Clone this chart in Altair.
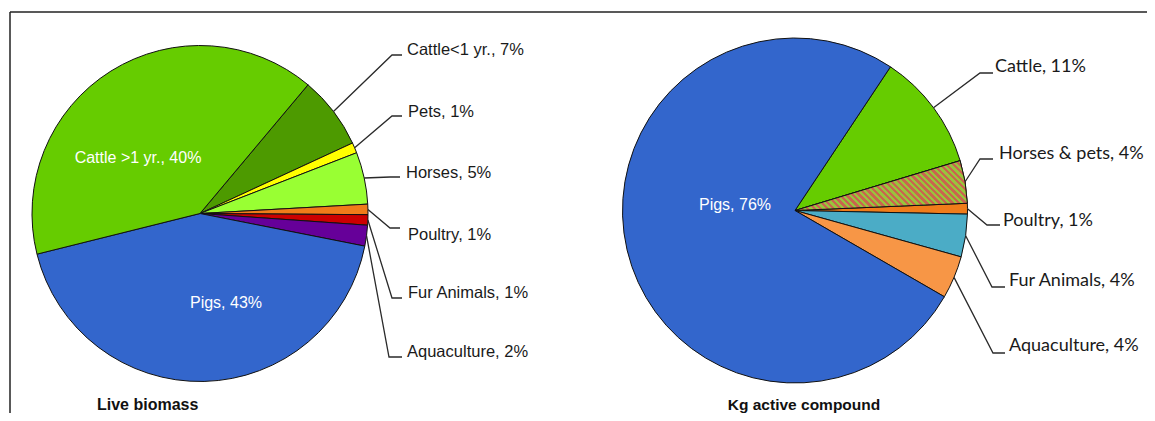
import math
import altair as alt
import pandas as pd

# ---------------- data ----------------
left_categories = ["Cattle<1 yr.", "Pets", "Horses", "Poultry", "Fur Animals",
                   "Aquaculture", "Pigs", "Cattle >1 yr."]
left_values = [7, 1, 5, 1, 1, 2, 43, 40]

right_categories = ["Cattle", "Horses & pets", "Poultry", "Fur Animals",
                    "Aquaculture", "Pigs"]
right_values = [11, 4, 1, 4, 4, 76]

left_title = ["Live biomass"]
right_title = ["Kg active compound"]

# ---------------- styles ----------------
left_colors = ["#4d9a00", "#ffff00", "#99ff33", "#f07c1a", "#cc0000",
               "#660099", "#3366cc", "#66cc00"]
right_colors = ["#66cc00", "#b08a58", "#f07c1a", "#4bacc6", "#f79646", "#3366cc"]
hatch_category = "Horses & pets"
hatch_colors = ["#c9654f", "#98c43c"]

# ---------------- layout (reference pixel coordinates) ----------------
OFF = 8
W, H = 1139, 405

left_pie = dict(cx=200, cy=213.5, r=168, start=40)
right_pie = dict(cx=795, cy=210.5, r=172.5, start=33.6)

left_inside = {"Pigs": (226, 303), "Cattle >1 yr.": (138, 158)}
left_text_x = [407, 408, 406, 408, 408, 407]
left_text_y = [50, 112, 173, 235, 293, 352]
left_line_y = [55, 116, 177, 228, 298, 357]
left_elbow_x = [392, 392, 390, 390, 392, 389]
left_end_x = [402, 402, 400, 400, 402, 402]

right_inside = {"Pigs": (735, 205)}
right_text_x = [995, 999, 1003, 1009, 1009]
right_text_y = [67, 154, 221, 281, 346]
right_line_y = [73, 159, 225, 287, 353]
right_elbow_x = [980, 980, 987, 992, 993]
right_end_x = [993, 993, 1000, 1005, 1005]

xs = alt.Scale(domain=[0, W], nice=False, zero=False)
ys = alt.Scale(domain=[0, H], nice=False, zero=False, reverse=True)


def pie_table(cats, vals, text_x, text_y, line_y, elbow_x, end_x, inside):
    rows = []
    k = 0
    for i, (c, v) in enumerate(zip(cats, vals)):
        row = dict(cat=c, val=v, order=i)
        if c in inside:
            row.update(inside=True, tx=inside[c][0] - OFF, ty=inside[c][1] - OFF)
        else:
            row.update(inside=False, tx=text_x[k] - OFF, ty=text_y[k] - OFF,
                       ly=line_y[k] - OFF, ex=elbow_x[k] - OFF, endx=end_x[k] - OFF)
            k += 1
        rows.append(row)
    return pd.DataFrame(rows)


def hatch_gradient(cats, vals, pie, target):
    # bounding box of the target slice (for objectBoundingBox gradient units)
    i = cats.index(target)
    before = sum(vals[:i])
    a1 = pie["start"] + before / sum(vals) * 360
    a2 = a1 + vals[i] / sum(vals) * 360
    pts = [(0.0, 0.0)]
    n = 60
    for j in range(n + 1):
        a = math.radians(a1 + (a2 - a1) * j / n)
        pts.append((pie["r"] * math.sin(a), -pie["r"] * math.cos(a)))
    w = max(p[0] for p in pts) - min(p[0] for p in pts)
    h = max(p[1] for p in pts) - min(p[1] for p in pts)
    k = (w + h) / (w * w + h * h)
    dx, dy = k * w, -k * h
    period = 4.6
    nstr = max(2, int(round((w + h) / math.sqrt(2) / (period / 2))))
    stops = []
    for s in range(nstr):
        col = hatch_colors[s % 2]
        stops.append(alt.GradientStop(offset=s / nstr, color=col))
        stops.append(alt.GradientStop(offset=(s + 1) / nstr, color=col))
    return alt.LinearGradient(gradient="linear", stops=stops,
                              x1=0, y1=1, x2=dx, y2=1 + dy)


def pie_layers(df, cats, colors, pie, font, size, hatch=None):
    a0 = math.radians(pie["start"])
    tscale = alt.Scale(domain=[0, 100], range=[a0, a0 + 2 * math.pi])
    cx, cy, r = pie["cx"] - OFF, pie["cy"] - OFF, pie["r"]
    base = alt.Chart(df).transform_window(
        cum="sum(val)", sort=[alt.SortField("order")], frame=[None, 0]
    ).transform_calculate(start="datum.cum - datum.val")

    arcs = base.mark_arc(radius=r, stroke="#111111", strokeWidth=1).encode(
        theta=alt.Theta("start:Q", scale=tscale),
        theta2="cum:Q",
        color=alt.Color("cat:N", scale=alt.Scale(domain=cats, range=colors), legend=None),
        x=alt.value(cx), y=alt.value(cy),
    )
    layers = [arcs]
    if hatch is not None:
        grad = hatch_gradient(cats, list(df["val"]), pie, hatch)
        hl = base.transform_filter(alt.datum.cat == hatch).mark_arc(
            radius=r, fill=grad, stroke="#111111", strokeWidth=1
        ).encode(
            theta=alt.Theta("start:Q", scale=tscale),
            theta2="cum:Q",
            x=alt.value(cx), y=alt.value(cy),
        )
        layers.append(hl)

    geo = base.transform_filter("!datum.inside").transform_calculate(
        ang=f"{a0} + (datum.start + datum.val / 2) / 100 * 2 * PI"
    ).transform_calculate(
        sx=f"{cx} + {r} * sin(datum.ang)",
        sy=f"{cy} - {r} * cos(datum.ang)",
    ).transform_calculate(
        px="[datum.sx, datum.ex, datum.endx]",
        py="[datum.sy, datum.ly, datum.ly]",
        idx="[0, 1, 2]",
    ).transform_flatten(["px", "py", "idx"])
    leaders = geo.mark_line(color="#2a2a2a", strokeWidth=1.3).encode(
        x=alt.X("px:Q", scale=xs, axis=None),
        y=alt.Y("py:Q", scale=ys, axis=None),
        detail="cat:N",
        order="idx:Q",
    )
    layers.append(leaders)

    lab = base.transform_calculate(label="datum.cat + ', ' + datum.val + '%'")
    out_text = lab.transform_filter("!datum.inside").mark_text(
        align="left", baseline="middle", font=font, fontSize=size, color="#1a1a1a"
    ).encode(
        x=alt.X("tx:Q", scale=xs, axis=None),
        y=alt.Y("ty:Q", scale=ys, axis=None),
        text="label:N",
    )
    in_text = lab.transform_filter("datum.inside").mark_text(
        align="center", baseline="middle", font="Liberation Sans", fontSize=16, color="white"
    ).encode(
        x=alt.X("tx:Q", scale=xs, axis=None),
        y=alt.Y("ty:Q", scale=ys, axis=None),
        text="label:N",
    )
    layers += [out_text, in_text]
    return layers


left_df = pie_table(left_categories, left_values, left_text_x, left_text_y,
                    left_line_y, left_elbow_x, left_end_x, left_inside)
right_df = pie_table(right_categories, right_values, right_text_x, right_text_y,
                     right_line_y, right_elbow_x, right_end_x, right_inside)

layers = []
layers += pie_layers(left_df, left_categories, left_colors, left_pie,
                     "Liberation Sans", 16.5)
layers += pie_layers(right_df, right_categories, right_colors, right_pie,
                     "Lato", 18, hatch=hatch_category)

titles = alt.Chart(pd.DataFrame({"t": left_title + right_title,
                                 "tx": [97 - OFF, 804 - OFF],
                                 "ty": [405 - OFF, 405 - OFF],
                                 "al": ["left", "center"]}))
t_left = titles.transform_filter("datum.al == 'left'").mark_text(
    align="left", baseline="middle", font="Liberation Sans", fontSize=16,
    fontWeight="bold", color="#111111"
).encode(x=alt.X("tx:Q", scale=xs, axis=None), y=alt.Y("ty:Q", scale=ys, axis=None), text="t:N")
t_right = titles.transform_filter("datum.al == 'center'").mark_text(
    align="center", baseline="middle", font="Liberation Sans", fontSize=15.5,
    fontWeight="bold", color="#111111"
).encode(x=alt.X("tx:Q", scale=xs, axis=None), y=alt.Y("ty:Q", scale=ys, axis=None), text="t:N")
layers += [t_left, t_right]

frame_src = alt.Chart(pd.DataFrame({"k": [0]}))
frame_top = frame_src.mark_rule(color="#222222", strokeWidth=1.5).encode(
    x=alt.value(10 - OFF), x2=alt.value(W + OFF), y=alt.value(12 - OFF))
frame_left = frame_src.mark_rule(color="#222222", strokeWidth=1.5).encode(
    x=alt.value(10 - OFF), y=alt.value(12 - OFF), y2=alt.value(H + OFF))
layers += [frame_top, frame_left]

chart = alt.layer(*layers).resolve_scale(
    theta="independent", color="independent"
).properties(
    width=W, height=H, padding=0,
    autosize=alt.AutoSizeParams(type="none"),
    background="white",
).configure_view(stroke=None)

chart.save("out.html", embed_options={"renderer": "svg", "actions": False})
